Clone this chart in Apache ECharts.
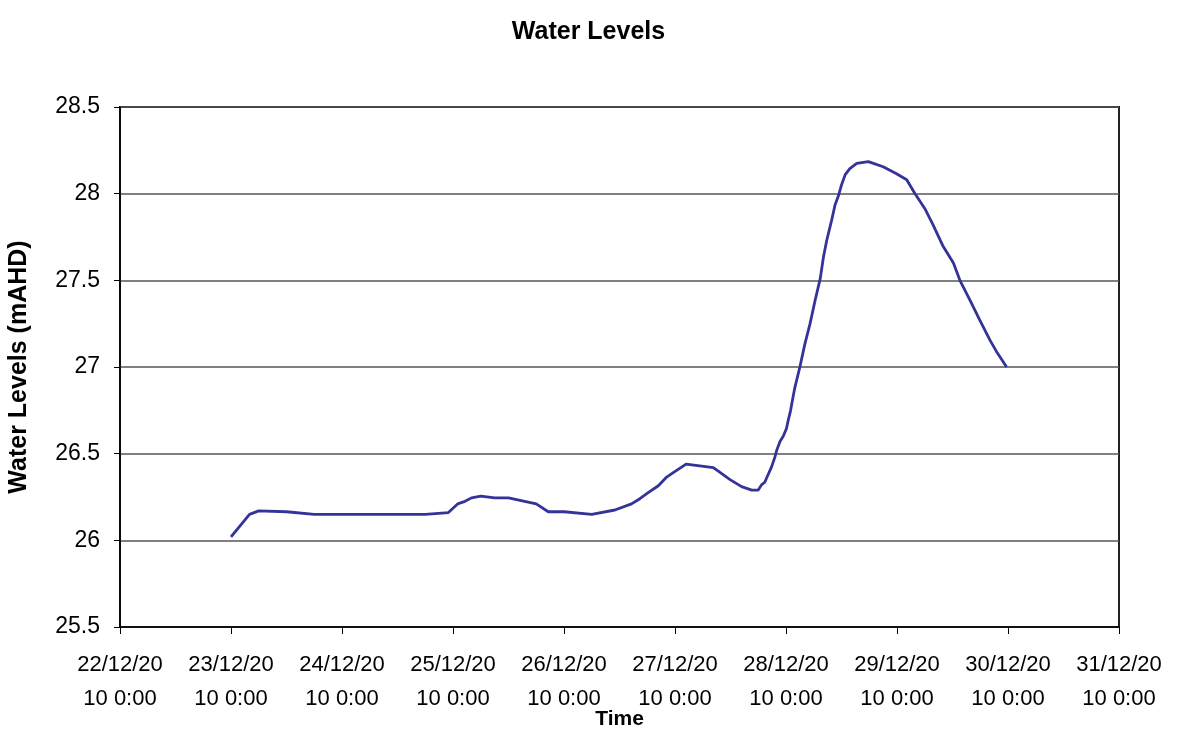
<!DOCTYPE html>
<html>
<head>
<meta charset="utf-8">
<script src="https://cdn.jsdelivr.net/npm/echarts@6/dist/echarts.min.js"></script>
<style>html,body{margin:0;padding:0;background:#fff}#c{width:1177px;height:756px}</style>
</head>
<body>
<div id="c"></div>
<script>
// hours since 22/12/2010 0:00
var hours = [24,28,30,36,42,66,71,73,74.6,76,78,81,84,90,92.6,96,102,107,110.6,112.4,114.2,116.4,118.2,119.3,122.4,128.3,131.9,134.4,136.6,138,138.7,139.4,140.9,141.6,142,142.7,143.4,144.1,144.5,145,145.4,145.9,147,148.1,149.2,150.3,151.4,152.1,152.8,153.9,154.6,155.3,156,156.8,157.8,159.3,161.8,165,167.9,170.1,171.9,174,175.8,178,180.2,181.6,183.8,185.9,188.1,189.5,191.7];
var levels = [26.02,26.15,26.17,26.165,26.15,26.15,26.16,26.21,26.225,26.245,26.255,26.245,26.245,26.21,26.165,26.165,26.15,26.175,26.21,26.24,26.275,26.315,26.365,26.385,26.44,26.42,26.35,26.31,26.29,26.29,26.32,26.335,26.425,26.48,26.52,26.57,26.6,26.645,26.695,26.75,26.81,26.88,27.0,27.135,27.25,27.385,27.51,27.635,27.73,27.85,27.935,27.985,28.05,28.11,28.145,28.175,28.185,28.155,28.115,28.08,28.0,27.915,27.82,27.695,27.6,27.5,27.385,27.27,27.155,27.09,27.0];
var xTickLabels = ['22/12/20\n10 0:00','23/12/20\n10 0:00','24/12/20\n10 0:00','25/12/20\n10 0:00','26/12/20\n10 0:00','27/12/20\n10 0:00','28/12/20\n10 0:00','29/12/20\n10 0:00','30/12/20\n10 0:00','31/12/20\n10 0:00'];

var data = hours.map(function(h,i){return [h, levels[i]];});
var font = 'Arial, "Liberation Sans", sans-serif';
var chart = echarts.init(document.getElementById('c'), null, {renderer:'canvas'});
chart.setOption({
  animation:false,
  backgroundColor:'#fff',
  title:{text:'Water Levels',left:'center',top:15,textStyle:{fontFamily:font,fontSize:25,fontWeight:'bold',color:'#000'}},
  grid:{left:120,right:58,top:107,bottom:129,show:true,borderColor:'#222',borderWidth:2,containLabel:false,outerBoundsMode:'none'},
  xAxis:{type:'value',min:0,max:216,interval:24,
    name:'Time',nameLocation:'middle',nameGap:82,nameMoveOverlap:false,
    nameTextStyle:{fontFamily:font,fontSize:21,fontWeight:'bold',color:'#000'},
    axisLine:{lineStyle:{color:'#000',width:1.5}},
    axisTick:{show:true,length:7,lineStyle:{color:'#000'}},
    axisLabel:{fontFamily:font,fontSize:22,color:'#000',lineHeight:34,margin:21,
      formatter:function(v){return xTickLabels[Math.round(v/24)];}},
    splitLine:{show:false}},
  yAxis:{type:'value',min:25.5,max:28.5,interval:0.5,
    name:'Water Levels (mAHD)',nameLocation:'middle',nameGap:88,nameRotate:90,nameMoveOverlap:false,
    nameTextStyle:{fontFamily:font,fontSize:25,fontWeight:'bold',color:'#000'},
    axisLine:{show:true,lineStyle:{color:'#000',width:1.5}},
    axisTick:{show:true,length:6,lineStyle:{color:'#000'}},
    axisLabel:{fontFamily:font,fontSize:23,color:'#000',margin:20,
      formatter:function(v){return String(Math.round(v*10)/10);}},
    splitLine:{show:true,lineStyle:{color:'#555',width:1.5}}},
  series:[{type:'line',data:data,showSymbol:false,symbol:'none',
    lineStyle:{color:'#333399',width:2.8},itemStyle:{color:'#333399'}}]
});
</script>
</body>
</html>
